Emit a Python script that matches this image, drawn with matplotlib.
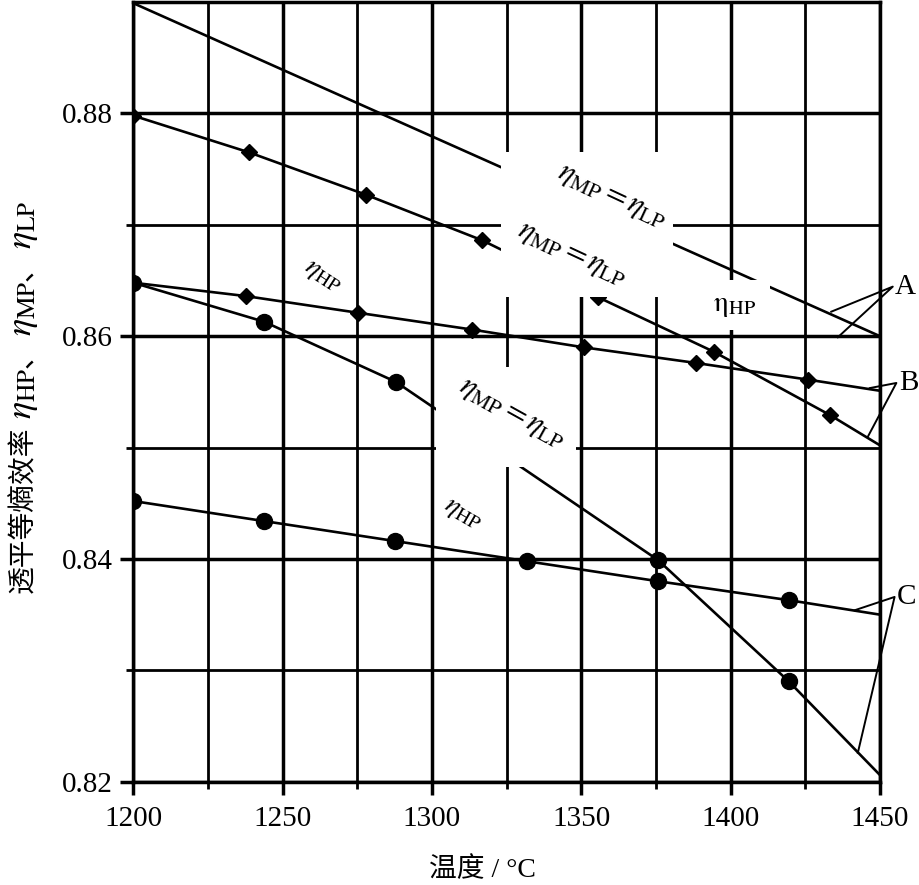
import matplotlib
matplotlib.use('Agg')
import matplotlib.pyplot as plt
from matplotlib.patches import Rectangle

plt.rcParams['mathtext.fontset'] = 'stix'
plt.rcParams['font.family'] = ['Liberation Serif', 'Noto Sans CJK SC', 'DejaVu Sans']

# ---------------- data ----------------
# Case A: eta_MP = eta_LP (plain line)
A_T = [1200, 1450]
A_v = [0.8899, 0.8600]

# Case B: eta_MP = eta_LP (diamonds)
B_mp_T = [1200, 1238.8, 1277.9, 1316.9, 1355.6, 1394.4, 1433.4, 1450]
B_mp_v = [0.8798, 0.8765, 0.8727, 0.8686, 0.8635, 0.8586, 0.8529, 0.8502]

# Case B: eta_HP (diamonds)
B_hp_T = [1200, 1237.7, 1275.3, 1313.3, 1350.8, 1388.3, 1425.9, 1450]
B_hp_v = [0.8648, 0.8636, 0.8621, 0.8606, 0.8590, 0.8576, 0.8561, 0.8551]

# Case C: eta_MP = eta_LP (circles)
C_mp_T = [1200, 1243.8, 1287.9, 1375.7, 1419.5, 1450]
C_mp_v = [0.8648, 0.8613, 0.8559, 0.8399, 0.8290, 0.8206]

# Case C: eta_HP (circles)
C_hp_T = [1200, 1243.8, 1287.8, 1331.7, 1375.7, 1419.5, 1450]
C_hp_v = [0.8452, 0.8434, 0.8416, 0.8398, 0.8380, 0.8363, 0.8350]

x_major = [1200, 1250, 1300, 1350, 1400, 1450]
x_minor = [1225, 1275, 1325, 1375, 1425]
y_major = [0.82, 0.84, 0.86, 0.88]
y_minor = [0.83, 0.85, 0.87]
y_labels = ['0.82', '0.84', '0.86', '0.88']

# leader lines (end1, vertex, end2) and case letters
leaders = {
    'A': ([1433.7, 1454.3, 1435.9], [0.8622, 0.86445, 0.8599]),
    'B': ([1446.6, 1455.5, 1446.0], [0.85534, 0.8558, 0.8510]),
    'C': ([1441.5, 1454.9, 1442.6], [0.83539, 0.83659, 0.8226]),
}

CJK = ['Noto Sans CJK SC', 'DejaVu Sans']

# ---------------- figure ----------------
fig = plt.figure(figsize=(9.19, 8.85), dpi=100)
ax = fig.add_axes([0.145, 0.1167, 0.8125, 0.881])
ax.set_xlim(1200, 1450)
ax.set_ylim(0.82, 0.89)

ax.set_xticks(x_major)
ax.set_xticks(x_minor, minor=True)
ax.set_yticks(y_major)
ax.set_yticklabels(y_labels)
ax.set_yticks(y_minor, minor=True)

ax.set_axisbelow(True)
ax.grid(which='major', color='black', lw=2.5)
ax.grid(which='minor', color='black', lw=2.0)
ax.tick_params(which='major', direction='out', length=9.5, width=2.5,
               labelsize=21, pad=5, colors='black')
ax.tick_params(which='minor', direction='out', length=5, width=2.0)
ax.tick_params(axis='x', pad=8)
for s in ax.spines.values():
    s.set_linewidth(2.5)
    s.set_color('black')

lw = 1.9
ax.plot(A_T, A_v, color='black', lw=lw, zorder=2)
ax.plot(B_mp_T, B_mp_v, color='black', lw=lw, marker='D', ms=8.5,
        markevery=list(range(len(B_mp_T) - 1)), zorder=2)
ax.plot(B_hp_T, B_hp_v, color='black', lw=lw, marker='D', ms=8.5,
        markevery=list(range(len(B_hp_T) - 1)), zorder=2)
ax.plot(C_mp_T, C_mp_v, color='black', lw=lw, marker='o', ms=11.5,
        markevery=list(range(len(C_mp_T) - 1)), zorder=2)
ax.plot(C_hp_T, C_hp_v, color='black', lw=lw, marker='o', ms=11.5,
        markevery=list(range(len(C_hp_T) - 1)), zorder=2)

# white label backgrounds
masks = [((1323.1, 0.86352), 57.5, 0.01301),
         ((1389.7, 0.86055), 23.4, 0.00448),
         ((1301.3, 0.84829), 46.8, 0.00897)]
for (x0, y0), w, h in masks:
    ax.add_patch(Rectangle((x0, y0), w, h, facecolor='white',
                           edgecolor='none', zorder=3))

mplp = r'$\eta_{\mathrm{MP}}=\eta_{\mathrm{LP}}$'
hp = r'$\eta_{\mathrm{HP}}$'
fs = 22
ax.text(1360.5, 0.8726, mplp, fontsize=fs, rotation=-25, ha='center',
        va='center', rotation_mode='anchor', zorder=4)
ax.text(1347.0, 0.8674, mplp, fontsize=fs, rotation=-25, ha='center',
        va='center', rotation_mode='anchor', zorder=4)
ax.text(1327.0, 0.8531, mplp, fontsize=fs, rotation=-29, ha='center',
        va='center', rotation_mode='anchor', zorder=4)
ax.text(1263.5, 0.8654, hp, fontsize=20, rotation=-33, ha='center',
        va='center', rotation_mode='anchor', zorder=4)
ax.text(1310.3, 0.8440, hp, fontsize=20, rotation=-30, ha='center',
        va='center', rotation_mode='anchor', zorder=4)
ax.text(1401.4, 0.8627, r'$\mathrm{η}_{\mathrm{HP}}$', fontsize=21,
        ha='center', va='center', zorder=4)

for name, (lx, ly) in leaders.items():
    ax.plot(lx, ly, color='black', lw=1.4, clip_on=False, zorder=2)
    ax.text(lx[1] + 0.8, ly[1], name, fontsize=21, ha='left', va='center',
            clip_on=False)

ax.set_xlabel('温度 / °C', fontsize=20)
ax.xaxis.set_label_coords(0.468, -0.097)

# y label assembled from pieces (CJK text + math)
fig.canvas.draw()
renderer = fig.canvas.get_renderer()
pieces = [('透平等熵效率', CJK, 20),
          (r'$\;\eta_{\mathrm{HP}}\,$', None, 26),
          ('、', CJK, 20),
          (r'$\,\eta_{\mathrm{MP}}\,$', None, 26),
          ('、', CJK, 20),
          (r'$\,\eta_{\mathrm{LP}}$', None, 26)]
x_base = 31.0 / 919
y_cur = 1 - 593.0 / 885
for s, fam, size in pieces:
    kw = dict(rotation=90, rotation_mode='anchor', ha='left', va='baseline',
              fontsize=size)
    if fam is not None:
        kw['family'] = fam
    t = fig.text(x_base, y_cur, s, **kw)
    bb = t.get_window_extent(renderer)
    y_cur += bb.height / fig.bbox.height

fig.savefig('out.png', dpi=100)
